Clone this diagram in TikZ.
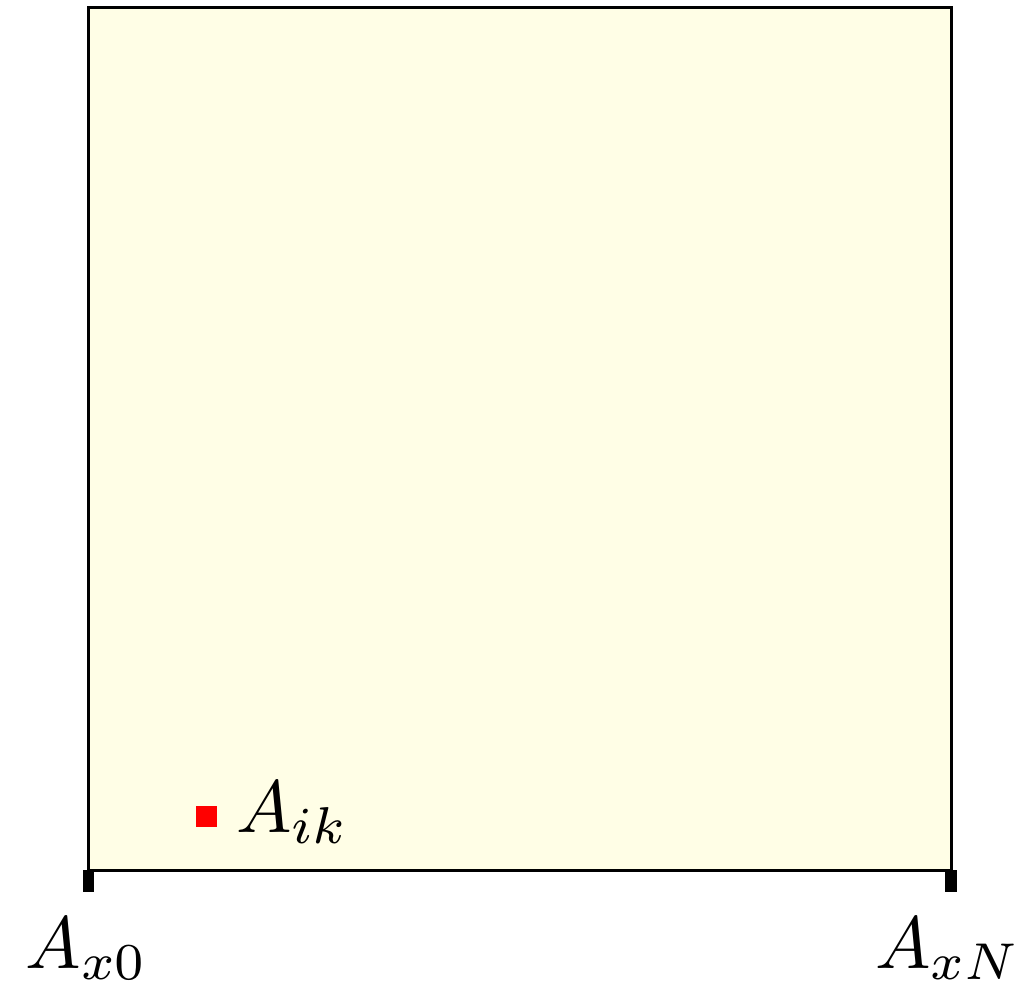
\documentclass[tikz,border=0pt]{standalone}
\begin{document}
\begin{tikzpicture}[x=0.5pt,y=-0.5pt,
  frame/.style={draw=black,line width=1.5pt,fill={rgb,255:red,255;green,254;blue,230}},
  tickmark/.style={fill=black},
  biglabel/.style={inner sep=0pt,font=\fontsize{10}{12}\selectfont,scale=3.7},
  ptlabel/.style={inner sep=0pt,font=\fontsize{10}{12}\selectfont,scale=3.7},
  pt/.style={fill=red,draw=none}]
\useasboundingbox (0,0) rectangle (1022,988);
\draw[frame] (88,8) rectangle (951,870);
\fill[tickmark] (83,870) rectangle (94,892);
\fill[tickmark] (945,870) rectangle (957,892);
\coordinate (x0) at (88,870);
\coordinate (xN) at (951,870);
\node[biglabel,anchor=base] (lx0) at (87,968) {$A_{x0}$};
\node[biglabel,anchor=base] (lxN) at (948,968) {$A_{xN}$};
\fill[pt] (196,806) rectangle (217,827);
\node[ptlabel,anchor=base west] (lik) at (235,832) {$A_{ik}$};
\end{tikzpicture}
\end{document}
